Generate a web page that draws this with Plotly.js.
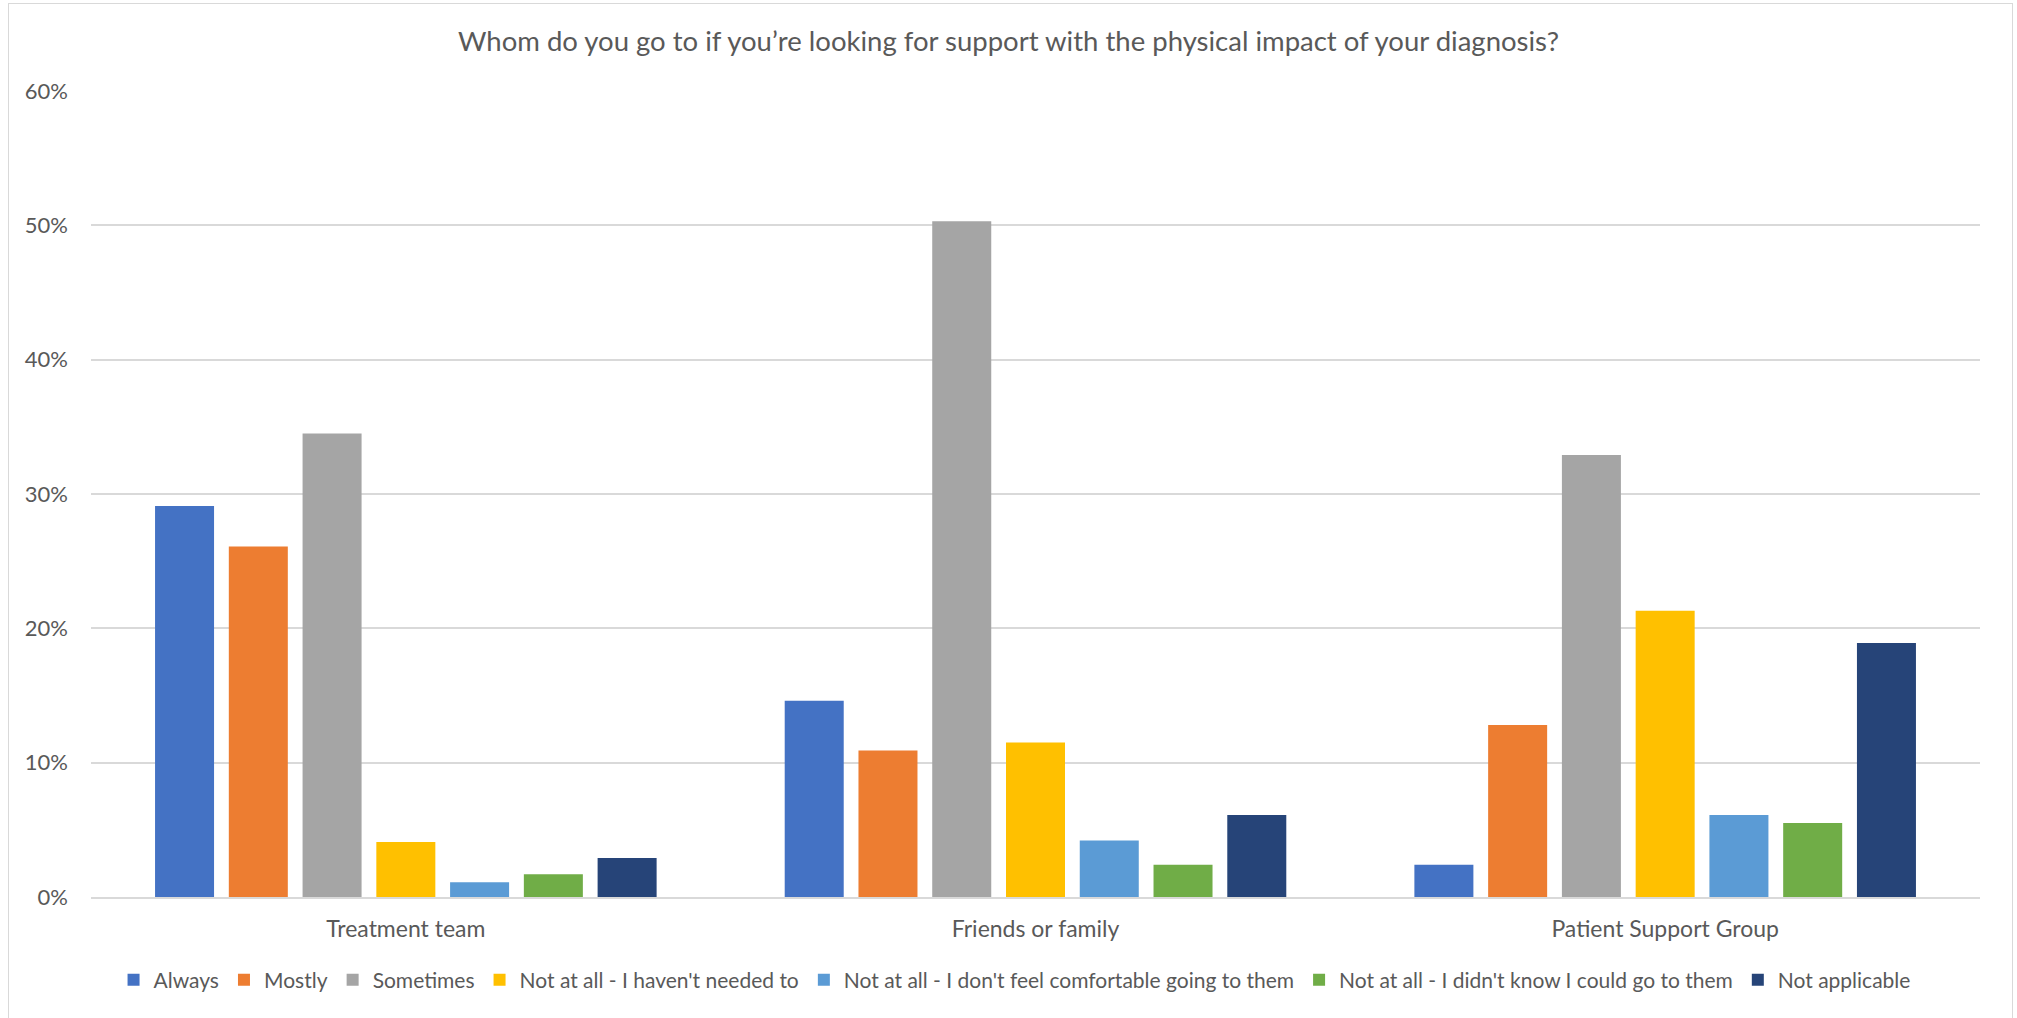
<!DOCTYPE html>
<html>
<head>
<meta charset="utf-8">
<script src="https://cdn.plot.ly/plotly-3.0.1.min.js"></script>
<style>
  html, body { margin: 0; padding: 0; background: #ffffff; }
  #chart { position: absolute; left: 0; top: 0; width: 2017px; height: 1018px; }
  #frame { position: absolute; left: 8px; top: 3px; width: 2005px; height: 1030px;
           border: 1.5px solid #d9d9d9; pointer-events: none; box-sizing: border-box; }
</style>
</head>
<body>
<div id="chart"></div>
<div id="frame"></div>
<script>
// Survey answers per source of support (share of respondents)
const categories = ['Treatment team', 'Friends or family', 'Patient Support Group'];

const seriesNames = [
  'Always',
  'Mostly',
  'Sometimes',
  "Not at all - I haven't needed to",
  "Not at all - I don't feel comfortable going to them",
  "Not at all - I didn't know I could go to them",
  'Not applicable'
];

const always        = [0.291, 0.146, 0.024];
const mostly        = [0.261, 0.109, 0.128];
const sometimes     = [0.345, 0.503, 0.329];
const notNeeded     = [0.041, 0.115, 0.213];
const notComfortable= [0.011, 0.042, 0.061];
const didntKnow     = [0.017, 0.024, 0.055];
const notApplicable = [0.029, 0.061, 0.189];

const seriesValues = [always, mostly, sometimes, notNeeded, notComfortable, didntKnow, notApplicable];

const seriesColors = ['#4472C4', '#ED7D31', '#A5A5A5', '#FFC000', '#5B9BD5', '#70AD47', '#264478'];

const yTickValues = [0, 0.1, 0.2, 0.3, 0.4, 0.5, 0.6];
const yTickLabels = ['0%', '10%', '20%', '30%', '40%', '50%', '60%'];

const textColor = '#595959';
const gridColor = '#d9d9d9';
const fontFamily = 'Lato, "Liberation Sans", sans-serif';

const traces = seriesNames.map((name, i) => ({
  type: 'bar',
  name: name,
  x: categories,
  y: seriesValues[i],
  marker: { color: seriesColors[i], line: { width: 0 } },
  hoverinfo: 'x+y+name'
}));

const layout = {
  width: 2017,
  height: 1018,
  paper_bgcolor: 'rgba(0,0,0,0)',
  plot_bgcolor: '#ffffff',
  margin: { l: 91, r: 37, t: 91, b: 120.5 },
  barmode: 'group',
  bargap: 0.18,
  bargroupgap: 0.2,
  font: { family: fontFamily, color: textColor, size: 21 },
  title: {
    text: 'Whom do you go to if you\u2019re looking for support with the physical impact of your diagnosis?',
    font: { family: fontFamily, size: 27.5, color: textColor },
    xref: 'container', x: 0.5, xanchor: 'center',
    yref: 'container', y: 0.959, yanchor: 'middle'
  },
  xaxis: {
    type: 'category',
    showgrid: false,
    showline: true,
    linecolor: gridColor,
    linewidth: 2,
    ticks: '',
    ticklabelstandoff: 10,
    tickfont: { family: fontFamily, size: 23, color: textColor },
    zeroline: false,
    fixedrange: true
  },
  yaxis: {
    range: [0, 0.6],
    tickvals: yTickValues,
    ticktext: yTickLabels,
    showgrid: true,
    gridcolor: gridColor,
    gridwidth: 2,
    zeroline: false,
    showline: false,
    ticks: '',
    ticklabelstandoff: 22,
    tickfont: { family: fontFamily, size: 22, color: textColor },
    fixedrange: true
  },
  legend: {
    orientation: 'h',
    xref: 'container', x: 0.503, xanchor: 'center',
    yref: 'container', y: 0.0373, yanchor: 'middle',
    itemwidth: 30,
    traceorder: 'normal',
    font: { family: fontFamily, size: 21, color: textColor },
    bgcolor: 'rgba(0,0,0,0)'
  },
  showlegend: true
};

Plotly.newPlot('chart', traces, layout, { displayModeBar: false, staticPlot: false });
</script>
</body>
</html>
